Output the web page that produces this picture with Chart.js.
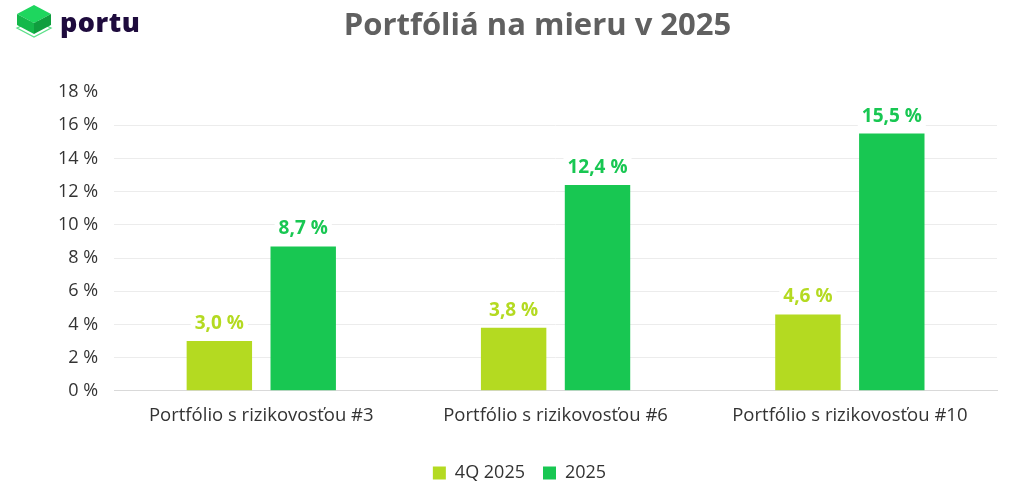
<!DOCTYPE html>
<html>
<head>
<meta charset="utf-8">
<script src="https://cdn.jsdelivr.net/npm/chart.js@4"></script>
<style>
html,body{margin:0;padding:0;background:#fff;}
#wrap{position:relative;width:1035px;height:486px;}
#logo{position:absolute;left:14px;top:2px;display:flex;align-items:center;}
#logo span{font-family:"Open Sans",sans-serif;font-weight:800;font-size:27px;color:#1e0b3d;margin-left:6px;letter-spacing:0.5px;margin-top:-8px;}
canvas{position:absolute;left:0;top:0;}
</style>
</head>
<body>
<div id="wrap">
<canvas id="c" width="1035" height="486"></canvas>
<div id="logo">
<svg width="40" height="46" viewBox="0 0 40 46">
<polygon points="3,26 20,18 37,26 20,35" fill="none" stroke="#5ee08a" stroke-width="1.3"/>
<polygon points="3,12 20,3 37,12 20,21" fill="#1ed65e"/>
<polygon points="3,12 20,21 20,32 3,23" fill="#14b84a"/>
<polygon points="20,21 37,12 37,23 20,32" fill="#0f9e3e"/>
</svg>
<span>portu</span>
</div>
</div>
<script>
const categories = ["Portfólio s rizikovosťou #3", "Portfólio s rizikovosťou #6", "Portfólio s rizikovosťou #10"];
const seriesNames = ["4Q 2025", "2025"];
const q4Values = [3.0, 3.8, 4.6];
const yearValues = [8.7, 12.4, 15.5];
const seriesColors = ["#b4da21", "#18c752"];
const titleText = 'Portfóliá na mieru v 2025';
const FONT = "'Open Sans', sans-serif";

const labelPlugin = {
  id: 'barLabels',
  afterLayout(chart) {
    if (chart.legend) { chart.legend.top += 8; chart.legend.bottom += 8; }
  },
  afterDatasetsDraw(chart) {
    const ctx = chart.ctx;
    chart.data.datasets.forEach((ds, i) => {
      const meta = chart.getDatasetMeta(i);
      meta.data.forEach((bar, j) => {
        const txt = ds.data[j].toFixed(1).replace('.', ',') + ' %';
        ctx.save();
        ctx.font = "bold 19px " + FONT;
        const w = ctx.measureText(txt).width;
        ctx.fillStyle = '#fff';
        ctx.fillRect(bar.x - w / 2 - 4, bar.y - 31, w + 8, 24);
        ctx.fillStyle = ds.backgroundColor;
        ctx.textAlign = 'center';
        ctx.textBaseline = 'alphabetic';
        ctx.fillText(txt, bar.x, bar.y - 12);
        ctx.restore();
      });
    });
  },
  afterDraw(chart) {
    const ctx = chart.ctx;
    ctx.save();
    ctx.font = "bold 31px " + FONT;
    ctx.fillStyle = '#606060';
    ctx.textAlign = 'center';
    ctx.textBaseline = 'middle';
    ctx.fillText(titleText, chart.width / 2 + 20, 26);
    ctx.restore();
  }
};

new Chart(document.getElementById('c'), {
  type: 'bar',
  data: {
    labels: categories,
    datasets: [
      { label: seriesNames[0], data: q4Values, backgroundColor: seriesColors[0] },
      { label: seriesNames[1], data: yearValues, backgroundColor: seriesColors[1] }
    ]
  },
  options: {
    responsive: false,
    animation: false,
    devicePixelRatio: 1,
    layout: { padding: { left: 42, right: 38, top: 92, bottom: 2 } },
    datasets: { bar: { categoryPercentage: 0.57, barPercentage: 0.78 } },
    plugins: {
      title: { display: false },
      legend: {
        position: 'bottom',
        labels: {
          color: '#333',
          font: { family: FONT, size: 18 },
          boxWidth: 13, boxHeight: 13, padding: 18
        }
      },
      tooltip: { enabled: false }
    },
    scales: {
      x: {
        grid: { display: false },
        border: { color: '#d9d9d9' },
        ticks: { color: '#333', font: { family: FONT, size: 18.5 }, padding: 6 },
        afterFit: s => { s.height += 5; }
      },
      y: {
        min: 0, max: 18,
        ticks: {
          stepSize: 2, color: '#333', padding: 16,
          font: { family: FONT, size: 18 },
          callback: v => v + ' %'
        },
        border: { display: false },
        grid: {
          color: ctx => (ctx.tick && ctx.tick.value === 18) ? 'rgba(0,0,0,0)' : (ctx.tick && ctx.tick.value === 0 ? '#d9d9d9' : '#ececec'),
          drawTicks: false
        }
      }
    }
  },
  plugins: [labelPlugin]
});
</script>
</body>
</html>
